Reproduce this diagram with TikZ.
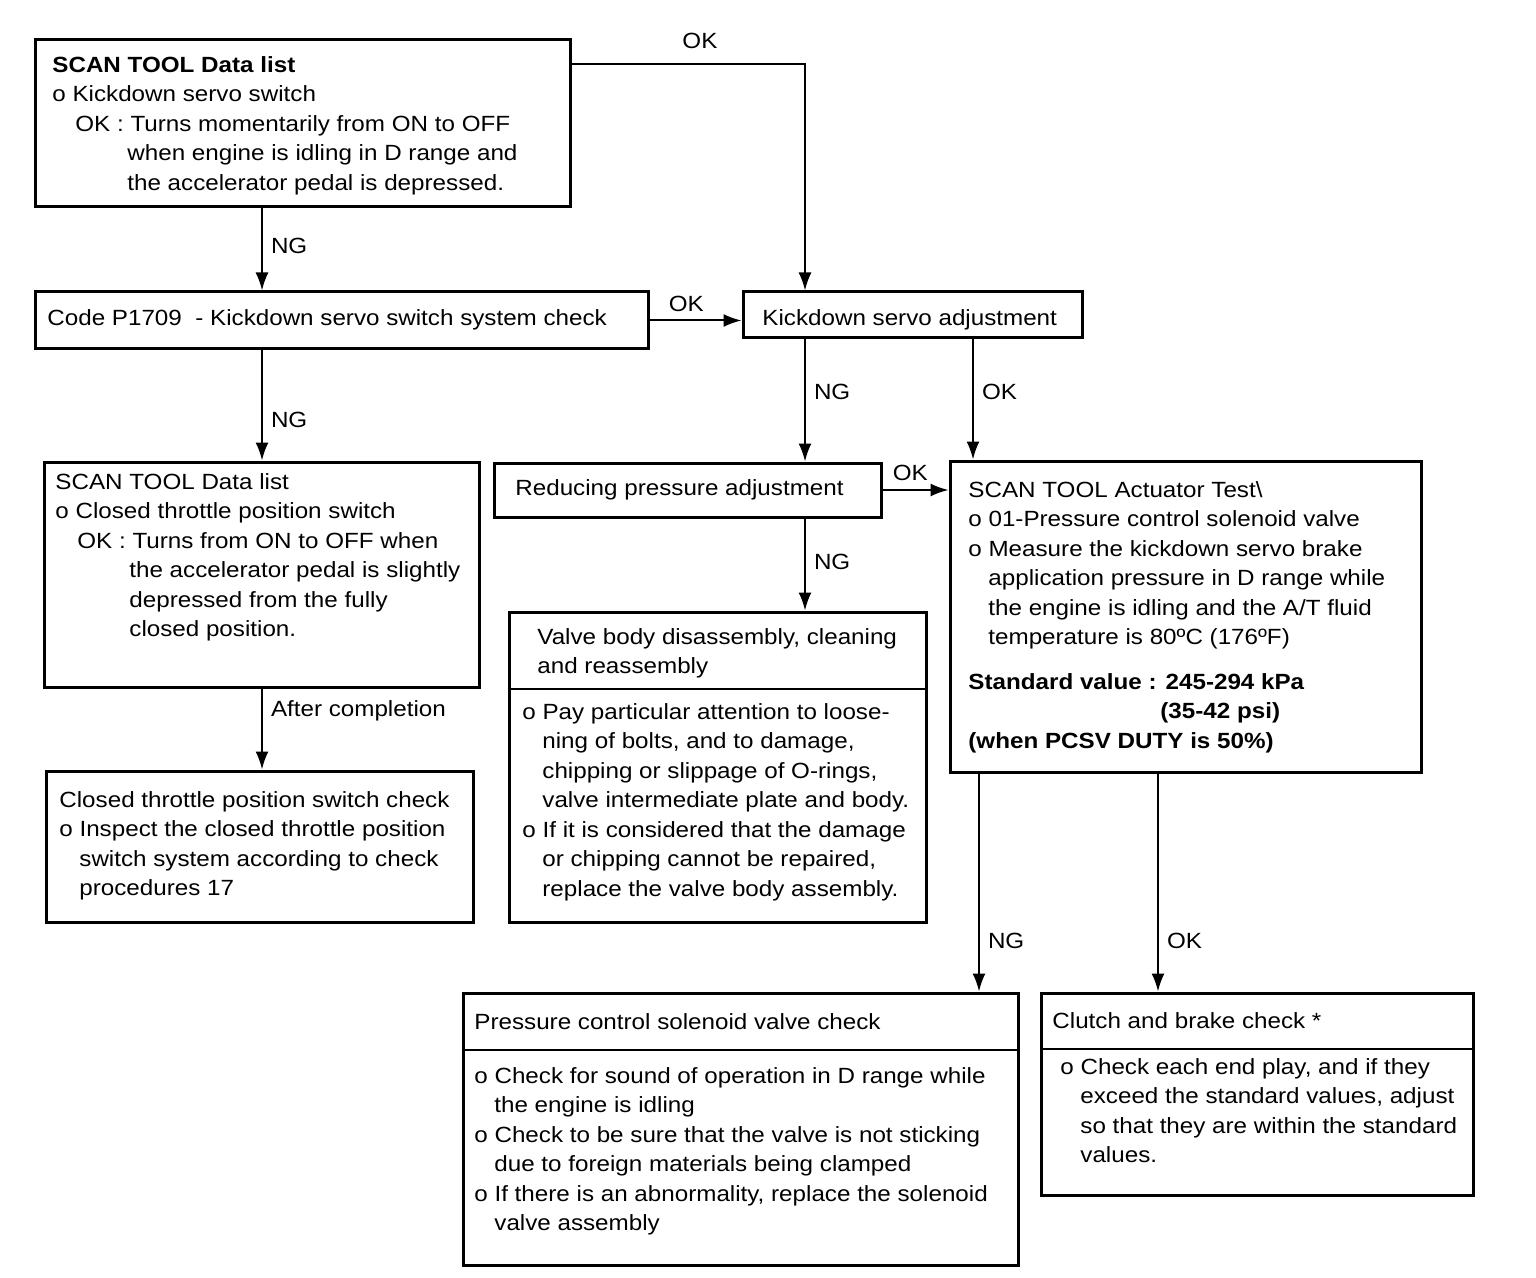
\documentclass[tikz,border=0pt]{standalone}
\usepackage{fontspec}
\setmainfont{Liberation Sans}[FakeStretch=1.1]
\usetikzlibrary{arrows.meta, fit, calc, positioning}

\begin{document}
\begin{tikzpicture}[x=0.5pt, y=-0.5pt]
 \tikzset{box/.style={draw, line width=1.5pt, inner sep=0pt}}
 \tikzset{rule/.style={line width=1.2pt}}
 \tikzset{txt/.style={anchor=north west, inner sep=0pt, align=left,
        font=\fontsize{11}{14.75}\selectfont}}
 \tikzset{lbl/.style={font=\fontsize{11}{13}\selectfont, inner sep=4pt}}
 \tikzset{arr/.style={line width=1pt, -{Latex[length=9pt, width=6.5pt]}}}
 \useasboundingbox (0,0) rectangle (1536,1278);

 % boxes
 \node[box, fit={(35,40) (570,207)}] (scanA) {};
 \node[box, fit={(35,292) (648,349)}] (code) {};
 \node[box, fit={(743,292) (1082,338)}] (adjust) {};
 \node[box, fit={(44,462) (479,687)}] (scanB) {};
 \node[box, fit={(46,771) (473,922)}] (ctps) {};
 \node[box, fit={(494,463) (881,517)}] (reduce) {};
 \node[box, fit={(509,612) (926,922)}] (valve) {};
 \node[box, fit={(950,461) (1421,772)}] (act) {};
 \node[box, fit={(463,993) (1018,1265)}] (pcsv) {};
 \node[box, fit={(1041,993) (1473,1195)}] (clutch) {};
 \draw[rule] (valve.west |- 0,689) -- (valve.east |- 0,689);
 \draw[rule] (pcsv.west |- 0,1050) -- (pcsv.east |- 0,1050);
 \draw[rule] (clutch.west |- 0,1049) -- (clutch.east |- 0,1049);

 % texts
 \node[txt] (scanAtxt) at (52,56) {\textbf{SCAN TOOL Data list}\\
   o Kickdown servo switch\\
   \hspace*{11.5pt}OK : Turns momentarily from ON to OFF\\
   \hspace*{37.5pt}when engine is idling in D range and\\
   \hspace*{37.5pt}the accelerator pedal is depressed.};
 \node[txt] (codetxt) at (47,309) {Code P1709\ \ - Kickdown servo switch system check};
 \node[txt] (adjusttxt) at (762,309) {Kickdown servo adjustment};
 \node[txt] (scanBtxt) at (55,473) {SCAN TOOL Data list\\
   o Closed throttle position switch\\
   \hspace*{11pt}OK : Turns from ON to OFF when\\
   \hspace*{37pt}the accelerator pedal is slightly\\
   \hspace*{37pt}depressed from the fully\\
   \hspace*{37pt}closed position.};
 \node[txt] (ctpstxt) at (59,791) {Closed throttle position switch check\\
   o Inspect the closed throttle position\\
   \hspace*{10pt}switch system according to check\\
   \hspace*{10pt}procedures 17};
 \node[txt] (reducetxt) at (515,479) {Reducing pressure adjustment};
 \node[txt] (valvehead) at (537,628) {Valve body disassembly, cleaning\\
   and reassembly};
 \node[txt] (valvetxt) at (522,703) {o Pay particular attention to loose-\\
   \hspace*{10pt}ning of bolts, and to damage,\\
   \hspace*{10pt}chipping or slippage of O-rings,\\
   \hspace*{10pt}valve intermediate plate and body.\\
   o If it is considered that the damage\\
   \hspace*{10pt}or chipping cannot be repaired,\\
   \hspace*{10pt}replace the valve body assembly.};
 \node[txt] (acttxt) at (968,481) {SCAN TOOL Actuator Test\textbackslash\\
   o 01-Pressure control solenoid valve\\
   o Measure the kickdown servo brake\\
   \hspace*{10pt}application pressure in D range while\\
   \hspace*{10pt}the engine is idling and the A/T fluid\\
   \hspace*{10pt}temperature is 80ºC (176ºF)\\[7.5pt]
   \textbf{Standard value : 245-294 kPa}\\
   \hspace*{96pt}\textbf{(35-42 psi)}\\
   \textbf{(when PCSV DUTY is 50\%)}};
 \node[txt] (pcsvhead) at (474,1013) {Pressure control solenoid valve check};
 \node[txt] (pcsvtxt) at (474,1067) {o Check for sound of operation in D range while\\
   \hspace*{10pt}the engine is idling\\
   o Check to be sure that the valve is not sticking\\
   \hspace*{10pt}due to foreign materials being clamped\\
   o If there is an abnormality, replace the solenoid\\
   \hspace*{10pt}valve assembly};
 \node[txt] (clutchhead) at (1052,1012) {Clutch and brake check *};
 \node[txt] (clutchtxt) at (1060,1058) {o Check each end play, and if they\\
   \hspace*{10pt}exceed the standard values, adjust\\
   \hspace*{10pt}so that they are within the standard\\
   \hspace*{10pt}values.};

 % connectors
 \coordinate (okbend) at (805,64);
 \coordinate (colL) at (262,0);
 \coordinate (colM) at (805,0);
 \coordinate (colR) at (973,0);
 \coordinate (colS) at (979,0);
 \coordinate (colT) at (1158,0);
 \draw[arr] (scanA.east |- okbend) -- node[lbl, above=3pt, pos=.55] {OK} (okbend)
    -- (okbend |- adjust.north);
 \draw[arr] (scanA.south -| colL) -- node[lbl, right, pos=.46] {NG} (code.north -| colL);
 \draw[arr] (code.east) -- node[lbl, above, pos=.4] {OK} (code.east -| adjust.west);
 \draw[arr] (code.south -| colL) -- node[lbl, right, pos=.63] {NG} (scanB.north -| colL);
 \draw[arr] (scanB.south -| colL) -- node[lbl, right, pos=.27] {After completion} (ctps.north -| colL);
 \draw[arr] (adjust.south -| colM) -- node[lbl, right, pos=.43] {NG} (reduce.north -| colM);
 \draw[arr] (adjust.south -| colR) -- node[lbl, right, pos=.44] {OK} (act.north -| colR);
 \draw[arr] (reduce.east) -- node[lbl, above, pos=.42] {OK} (reduce.east -| act.west);
 \draw[arr] (reduce.south -| colM) -- node[lbl, right, pos=.47] {NG} (valve.north -| colM);
 \draw[arr] (act.south -| colS) -- node[lbl, right, pos=.77] {NG} (pcsv.north -| colS);
 \draw[arr] (act.south -| colT) -- node[lbl, right, pos=.77] {OK} (clutch.north -| colT);
\end{tikzpicture}
\end{document}
